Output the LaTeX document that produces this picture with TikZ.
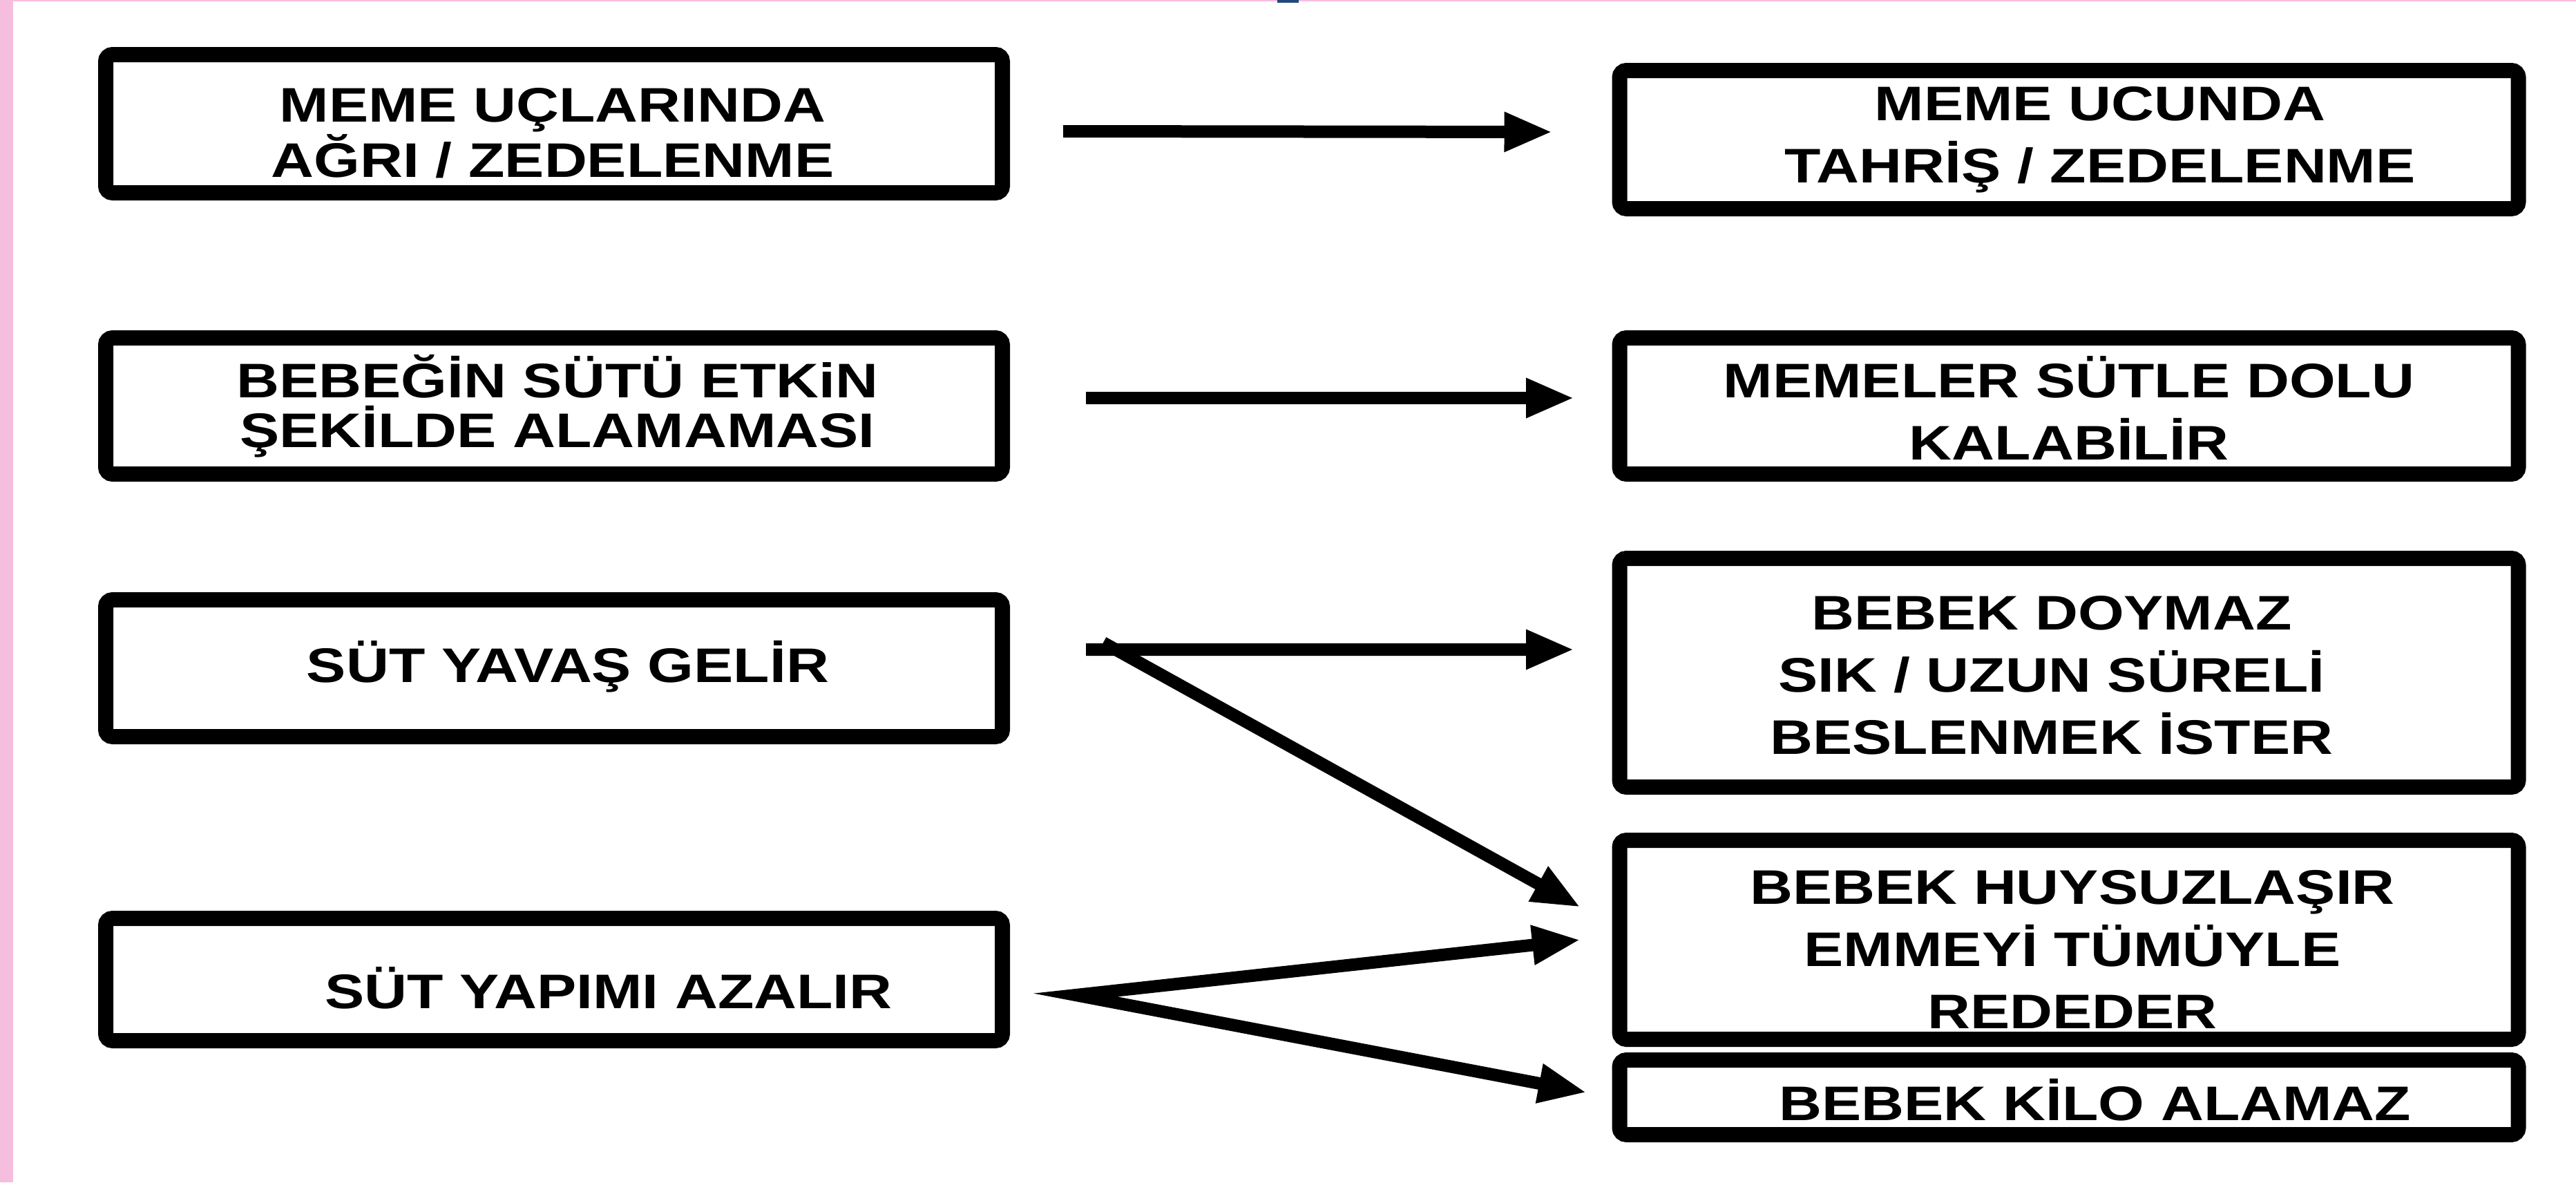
\documentclass[tikz,border=0pt]{standalone}
\usepackage{fontspec}
\newfontfamily\boxfont{Liberation Sans Bold}[FakeStretch=1.22]
\usetikzlibrary{arrows.meta}
\definecolor{sidepink}{RGB}{246,190,222}
\definecolor{titleblue}{RGB}{31,73,125}

\begin{document}
\begin{tikzpicture}[
    bx/.style={draw, line width=2.2mm, rounded corners=1mm, minimum width=12.98cm, inner sep=0pt},
    rbx/.style={bx, minimum width=13.01cm},
    tx/.style={font=\boxfont\fontsize{20}{20.5}\selectfont, align=center, inner sep=0pt},
    txr/.style={tx, font=\boxfont\fontsize{20}{25.6}\selectfont},
    ar/.style={-{Triangle[length=7mm,width=5.3mm]}, line width=1.8mm},
    ar2/.style={{Triangle[length=7mm,width=5.3mm]}-{Triangle[length=7mm,width=5.3mm]}, line width=1.8mm},
]
\useasboundingbox (0,0) rectangle (37.29,-17.11);
\fill[white] (0,0) rectangle (37.29,-17.11);

% === Slide edge ===
\fill[sidepink] (0,0) rectangle (0.19,-17.11);
\fill[sidepink] (0,0) rectangle (37.29,-0.02);
\fill[titleblue] (18.49,0) rectangle (18.80,-0.04);

% === Left column: causes ===
\node[bx, minimum height=2.00cm] at (8.02,-1.79) (l1) {};
\node[bx, minimum height=1.97cm] at (8.02,-5.875) (l2) {};
\node[bx, minimum height=1.98cm] at (8.02,-9.67) (l3) {};
\node[bx, minimum height=1.77cm] at (8.02,-14.175) (l4) {};

\node[tx] at (8.00,-1.93) (l1t) {MEME UÇLARINDA\\AĞRI / ZEDELENME};
\node[tx] at (8.07,-5.88) (l2t) {BEBEĞİN SÜTÜ ETKiN\\ŞEKİLDE ALAMAMASI};
\node[tx] at (8.22,-9.65) (l3t) {SÜT YAVAŞ GELİR};
\node[tx] at (8.81,-14.30) (l4t) {SÜT YAPIMI AZALIR};

% === Right column: results ===
\node[rbx, minimum height=2.00cm] at (29.95,-2.02) (r1) {};
\node[rbx, minimum height=1.97cm] at (29.95,-5.875) (r2) {};
\node[rbx, minimum height=3.31cm] at (29.95,-9.735) (r3) {};
\node[rbx, minimum height=2.88cm] at (29.95,-13.60) (r4) {};
\node[rbx, minimum height=1.08cm] at (29.95,-15.88) (r5) {};

\node[txr] at (30.40,-2.02) (r1t) {MEME UCUNDA\\TAHRİŞ / ZEDELENME};
\node[txr] at (29.95,-5.90) (r2t) {MEMELER SÜTLE DOLU\\KALABİLİR};
\node[txr] at (29.70,-9.77) (r3t) {BEBEK DOYMAZ\\SIK / UZUN SÜRELİ\\BESLENMEK İSTER};
\node[txr] at (30.00,-13.74) (r4t) {BEBEK HUYSUZLAŞIR\\EMMEYİ TÜMÜYLE\\REDEDER};
\node[txr] at (30.33,-15.92) (r5t) {BEBEK KİLO ALAMAZ};

% --- Arrows ---
\coordinate (j4) at ([xshift=9.5mm,yshift=-2.25mm]l4.east);
\draw[ar] ([xshift=7.7mm,yshift=-1.1mm]l1.east) -- ([xshift=-8.6mm,yshift=1.1mm]r1.west);
\draw[ar] ([xshift=11mm,yshift=1.15mm]l2.east) -- ([xshift=-5.45mm,yshift=1.15mm]r2.west);
\draw[ar] ([xshift=11mm,yshift=2.7mm]l3.east) -- ([xshift=-5.45mm,yshift=3.35mm]r3.west);
\draw[ar] ([xshift=13.5mm,yshift=3.7mm]l3.east) -- ([xshift=-4.55mm,yshift=4.7mm]r4.west);
\draw[ar2] ([xshift=-4.55mm]r4.west) -- (j4) -- ([xshift=-3.65mm,yshift=0.7mm]r5.west);

\end{tikzpicture}
\end{document}
